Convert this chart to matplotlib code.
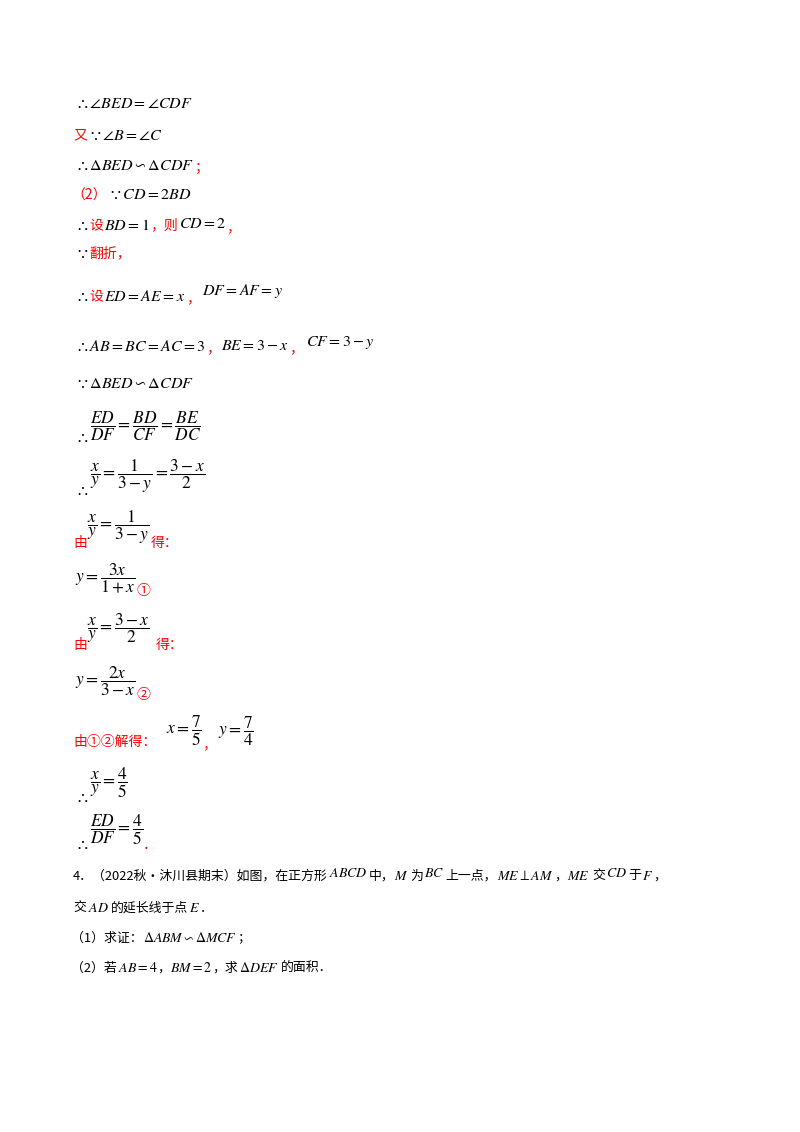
import matplotlib
matplotlib.use("Agg")
import matplotlib.pyplot as plt

plt.rcParams['mathtext.fontset'] = 'stix'
CJK = ['Noto Sans CJK SC', 'DejaVu Sans']
RED = '#ff0000'
BLK = '#000000'

# each row: (y_px, x_start_px, [(text, color, dy, gap_before)])
rows = [
    (103, 75, [(r'$\therefore\angle BED=\angle CDF$', BLK, 0, 0)]),
    (135, 73, [('又', RED, 0, 0), (r'$\because\angle B=\angle C$', BLK, 0, 1)]),
    (165, 75, [(r'$\therefore\Delta BED\backsim\Delta CDF$', BLK, 0, 0), ('；', RED, 3, 1)]),
    (194, 71, [('（2）', RED, 2, 0), (r'$\because CD=2BD$', BLK, 0, 2)]),
    (225, 75, [(r'$\therefore$', BLK, 0, 0), ('设', RED, 0, 1), (r'$BD=1$', BLK, 0, 1),
               ('，则', RED, 0, 0), (r'$CD=2$', BLK, -2, 1), ('，', RED, 2, 0)]),
    (253, 75, [(r'$\because$', BLK, 0, 0), ('翻折，', RED, 0, 1)]),
    (296, 75, [(r'$\therefore$', BLK, 0, 0), ('设', RED, 0, 1), (r'$ED=AE=x$', BLK, 0, 1),
               ('，', RED, 2, 0), (r'$DF=AF=y$', BLK, -5, 2)]),
    (346, 75, [(r'$\therefore AB=BC=AC=3$', BLK, 0, 0), ('，', RED, 2, 0), (r'$BE=3-x$', BLK, 0, 2),
               ('，', RED, 2, 0), (r'$CF=3-y$', BLK, -3, 3)]),
    (383, 75, [(r'$\because\Delta BED\backsim\Delta CDF$', BLK, 0, 0)]),
    (426, 75, [(r'$\therefore$', BLK, 11, 0), (r'$\dfrac{ED}{DF}=\dfrac{BD}{CF}=\dfrac{BE}{DC}$', BLK, 0, 1)]),
    (476, 75, [(r'$\therefore$', BLK, 14, 0), (r'$\dfrac{x}{y}=\dfrac{1}{3-y}=\dfrac{3-x}{2}$', BLK, 0, 1)]),
    (527, 73, [('由', RED, 16, 0), (r'$\dfrac{x}{y}=\dfrac{1}{3-y}$', BLK, 0, 0), ('得：', RED, 16, 1)]),
    (578, 75, [(r'$y=\dfrac{3x}{1+x}$', BLK, 0, 0), ('①', RED, 13, 1)]),
    (628, 73, [('由', RED, 17, 0), (r'$\dfrac{x}{y}=\dfrac{3-x}{2}$', BLK, 0, 0), ('得：', RED, 17, 6)]),
    (681, 75, [(r'$y=\dfrac{2x}{3-x}$', BLK, 0, 0), ('②', RED, 14, 1)]),
    (731, 73, [('由①②解得：', RED, 11, 0), (r'$x=\dfrac{7}{5}$', BLK, 0, 10), ('，', RED, 13, 0),
               (r'$y=\dfrac{7}{4}$', BLK, 0, 2)]),
    (783, 75, [(r'$\therefore$', BLK, 14, 0), (r'$\dfrac{x}{y}=\dfrac{4}{5}$', BLK, 0, 1)]),
    (830, 75, [(r'$\therefore$', BLK, 14, 0), (r'$\dfrac{ED}{DF}=\dfrac{4}{5}$', BLK, 0, 1), ('．', RED, 15, 0)]),
]

# problem 4 rows use smaller type
prob_rows = [
    (876, 73, [('4．（2022秋•沐川县期末）如图，在正方形', BLK, 0, 0), (r'$ABCD$', BLK, -3, 1),
               ('中，', BLK, 0, 1), (r'$M$', BLK, 0, 0), ('为', BLK, 0, 2), (r'$BC$', BLK, -3, 1),
               ('上一点，', BLK, 0, 1), (r'$ME\perp AM$', BLK, 0, 0), ('，', BLK, 0, 1),
               (r'$ME$', BLK, 0, 0), ('交', BLK, 0, 2), (r'$CD$', BLK, -3, 1), ('于', BLK, 0, 1),
               (r'$F$', BLK, 0, 1), ('，', BLK, 0, 1)]),
    (908, 73, [('交', BLK, 0, 0), (r'$AD$', BLK, 0, 2), ('的延长线于点', BLK, 0, 2), (r'$E$', BLK, 0, 1),
               ('．', BLK, 0, 0)]),
    (938, 71, [('（1）求证：', BLK, 0, 0), (r'$\Delta ABM\backsim\Delta MCF$', BLK, 0, 0), ('；', BLK, 0, 1)]),
    (968, 71, [('（2）若', BLK, 0, 0), (r'$AB=4$', BLK, 0, 1), ('，', BLK, 0, 0), (r'$BM=2$', BLK, 0, 0),
               ('，求', BLK, 0, 0), (r'$\Delta DEF$', BLK, 0, 1), ('的面积．', BLK, 0, 2)]),
]

W, H = 800, 1132
fig = plt.figure(figsize=(W / 100, H / 100), dpi=100)
fig.patch.set_facecolor('white')
renderer = fig.canvas.get_renderer()


def draw_rows(rr, math_size, frac_size, cjk_size):
    for y, x0, segs in rr:
        x = x0
        for s, c, dy, gap in segs:
            x += gap
            if s.startswith('$'):
                fs = frac_size if 'dfrac' in s else math_size
                t = fig.text(x / W, 1 - (y + dy) / H, s, color=c, fontsize=fs, va='center', ha='left')
            else:
                t = fig.text(x / W, 1 - (y + dy) / H, s, color=c, fontsize=cjk_size,
                             va='center', ha='left', family=CJK)
            x += t.get_window_extent(renderer).width


draw_rows(rows, 11.5, 12.5, 10)
draw_rows(prob_rows, 10, 10, 9.3)

fig.savefig('out.png', dpi=100, facecolor='white')
